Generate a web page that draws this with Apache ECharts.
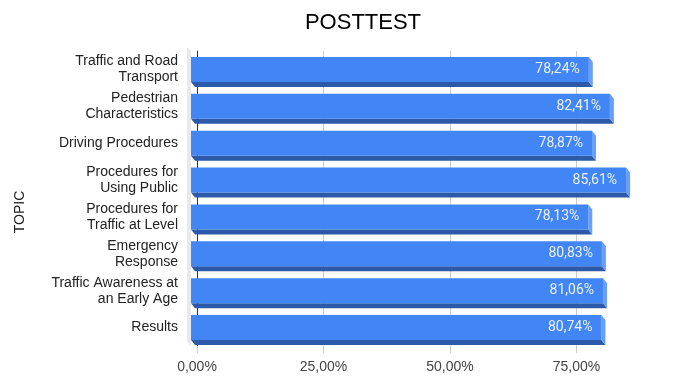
<!DOCTYPE html>
<html>
<head>
<meta charset="utf-8">
<script src="https://cdn.jsdelivr.net/npm/echarts@6/dist/echarts.min.js"></script>
<style>
html,body{margin:0;padding:0;background:#fff;}
#chart{width:690px;height:377px;}
</style>
</head>
<body>
<div id="chart"></div>
<script>
const categories = [
  "Traffic and Road\nTransport",
  "Pedestrian\nCharacteristics",
  "Driving Procedures",
  "Procedures for\nUsing Public",
  "Procedures for\nTraffic at Level",
  "Emergency\nResponse",
  "Traffic Awareness at\nan Early Age",
  "Results"
];
const values = [78.24, 82.41, 78.87, 85.61, 78.13, 80.83, 81.06, 80.74];
const xTicks = [0, 25, 50, 75];
const titleText = "POSTTEST";
const yTitle = "TOPIC";

const fmt = v => v.toFixed(2).replace('.', ',') + '%';

function renderItem(params, api) {
  const cat = api.value(1);
  const v = api.value(0);
  const p0 = api.coord([0, cat]);
  const p1 = api.coord([v, cat]);
  const band = api.size([0, 1])[1];
  const h = band * 0.68;
  const dx = 4, dy = 5;
  const cy = p0[1];
  const fTop = cy - h / 2, fBot = cy + h / 2;
  const fLeft = p0[0] - 6, fRight = p1[0] - dx;
  const bTop = cy - band / 2, bBot = cy + band / 2;
  return {
    type: 'group',
    children: [
      { type: 'polygon', shape: { points: [[p0[0]-10, bTop-4],[p0[0]-6, bTop],[p0[0]-6, bBot],[p0[0]-10, bBot-4]] },
        style: { fill: '#e9e9e9' } },
      { type: 'polygon', shape: { points: [[fLeft, fBot],[fRight, fBot],[fRight+dx, fBot+dy],[fLeft+dx, fBot+dy]] },
        style: { fill: '#2c5aa8' } },
      { type: 'polygon', shape: { points: [[fRight, fTop],[fRight+dx, fTop+dy],[fRight+dx, fBot+dy],[fRight, fBot]] },
        style: { fill: '#6a9ff7' } },
      { type: 'rect', shape: { x: fLeft, y: fTop, width: fRight - fLeft, height: h },
        style: { fill: '#4285f4' } },
      { type: 'text', x: fRight - 9, y: cy,
        style: { text: fmt(v), align: 'right', verticalAlign: 'middle', fill: '#eaf1fe',
                 font: '14px Roboto' } }
    ]
  };
}

const chart = echarts.init(document.getElementById('chart'));
chart.setOption({
  animation: false,
  title: { text: titleText, left: 358, textAlign: 'center', top: 7,
           textStyle: { fontFamily: 'Liberation Sans, Arial', fontSize: 22, fontWeight: 'normal', color: '#000' } },
  graphic: [{ type: 'text', x: 20, y: 212, rotation: Math.PI / 2,
              style: { text: yTitle, align: 'center', verticalAlign: 'middle',
                       font: '14px "Liberation Sans", Arial', fill: '#222' } }],
  grid: { left: 197, right: 0, top: 51, bottom: 31 },
  xAxis: {
    type: 'value', min: 0, max: 97.45, interval: 25,
    axisLine: { show: false },
    axisTick: { show: true, length: 7, lineStyle: { color: '#cccccc' } },
    splitLine: { show: true, lineStyle: { color: '#cccccc' } },
    axisLabel: { margin: 14, showMaxLabel: false, color: '#444',
                 fontFamily: 'Liberation Sans, Arial', fontSize: 14,
                 formatter: v => xTicks.includes(v) ? fmt(v) : '' }
  },
  yAxis: {
    type: 'category', data: categories, inverse: true,
    axisLine: { show: true, lineStyle: { color: '#333', width: 1 } },
    axisTick: { show: false },
    axisLabel: { margin: 19, color: '#222', fontFamily: 'Liberation Sans, Arial', fontSize: 14, lineHeight: 16, align: 'right' }
  },
  series: [{
    type: 'custom',
    renderItem: renderItem,
    encode: { x: 0, y: 1 },
    data: values.map((v, i) => [v, i])
  }]
});
</script>
</body>
</html>
